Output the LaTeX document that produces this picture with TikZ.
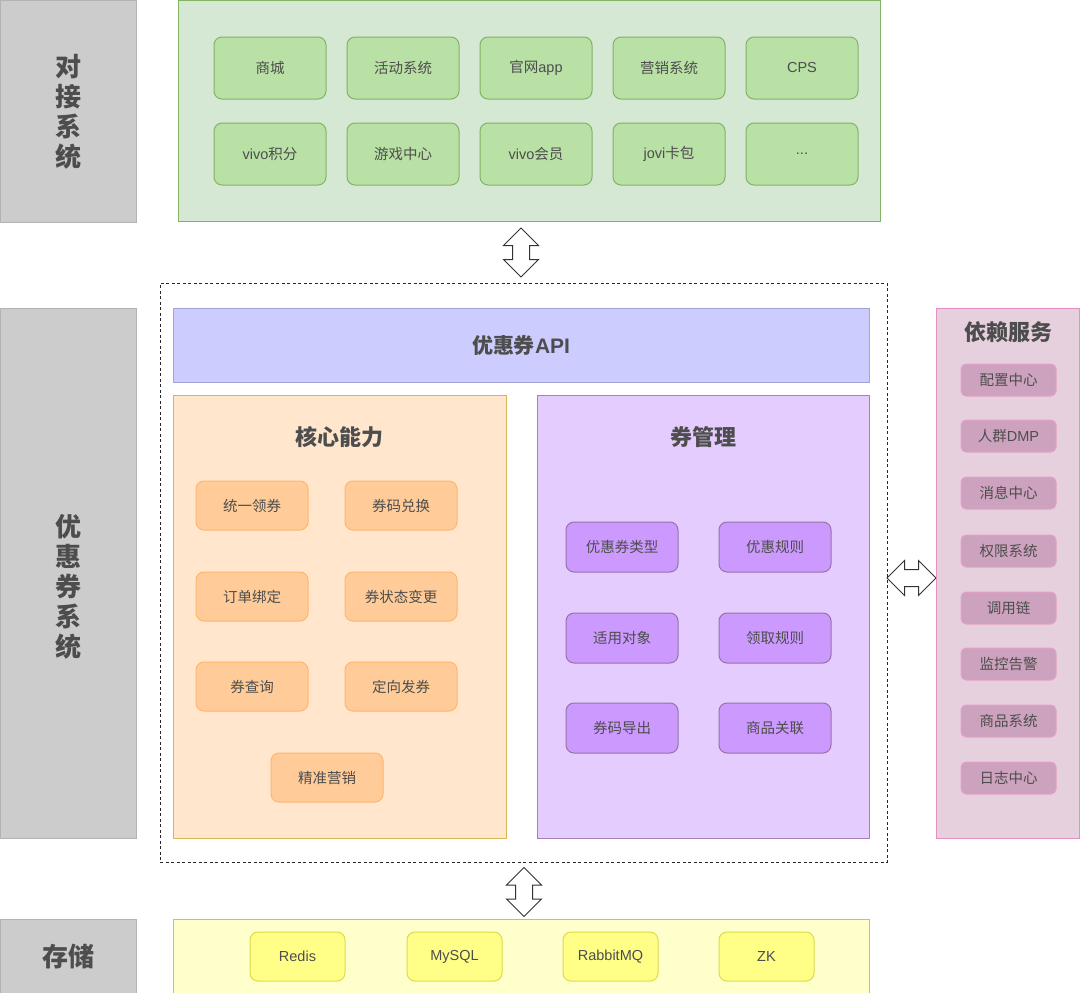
\documentclass[tikz,border=0pt]{standalone}
\usepackage{fontspec}
\setmainfont{Noto Sans CJK SC}
\newfontfamily\lat{Liberation Sans}
\usetikzlibrary{shapes.arrows}
\definecolor{txt}{HTML}{4D4D4D}
\definecolor{grayF}{HTML}{CCCCCC}\definecolor{grayD}{HTML}{B3B3B3}
\definecolor{grnF}{HTML}{D5E8D4}\definecolor{grnD}{HTML}{82B366}\definecolor{grnB}{HTML}{B9E0A5}
\definecolor{apiF}{HTML}{CCCCFF}\definecolor{apiD}{HTML}{A3A3D6}
\definecolor{orgF}{HTML}{FFE6CC}\definecolor{orgD}{HTML}{D6B656}\definecolor{orgB}{HTML}{FFCC99}\definecolor{orgBD}{HTML}{FFB570}
\definecolor{purF}{HTML}{E5CCFF}\definecolor{purD}{HTML}{A680B8}\definecolor{purB}{HTML}{CC99FF}\definecolor{purBD}{HTML}{9673A6}
\definecolor{pnkF}{HTML}{E6D0DE}\definecolor{pnkD}{HTML}{E68FC4}\definecolor{pnkB}{HTML}{CDA2BE}\definecolor{pnkBD}{HTML}{E6A0C8}
\definecolor{yelF}{HTML}{FFFFCC}\definecolor{yelD}{HTML}{C8C846}\definecolor{yelB}{HTML}{FFFF88}\definecolor{yelBD}{HTML}{DCDC4A}
\begin{document}
\begin{tikzpicture}[x=1pt,y=-1pt,
  every node/.style={inner sep=0pt, outer sep=0pt, text=txt},
  panel/.style={draw, line width=1pt, rectangle},
  lbl/.style={panel, fill=grayF, draw=grayD},
  lbltxt/.style={font=\fontsize{26}{30}\selectfont\bfseries, align=center},
  ttl/.style={font=\fontsize{22}{26}\selectfont\bfseries},
  sbox/.style={draw, line width=1pt, rounded corners=8pt, font=\fontsize{14.5}{16}\selectfont},
  gbox/.style={sbox, fill=grnB, draw=grnD, minimum width=112pt, minimum height=62pt},
  obox/.style={sbox, fill=orgB, draw=orgBD, minimum width=112pt, minimum height=49pt},
  pbox/.style={sbox, fill=purB, draw=purBD, minimum width=112pt, minimum height=50pt},
  kbox/.style={sbox, rounded corners=5pt, fill=pnkB, draw=pnkBD, minimum width=95pt, minimum height=32pt},
  ybox/.style={sbox, fill=yelB, draw=yelBD, minimum width=95pt, minimum height=49pt},
  darr/.style={double arrow, draw=black!80, fill=white, line width=1pt, inner xsep=0pt, inner ysep=8pt, double arrow head extend=9pt, minimum height=49pt}
]
\useasboundingbox (0,0) rectangle (1080,993);

% left labels
\node[lbl, minimum width=136pt, minimum height=222pt] (L1) at (68,111) {};
\node[lbltxt] (L1t) at (68,112) {\fontsize{26}{29.5}\selectfont 对\\接\\系\\统};
\node[lbl, minimum width=136pt, minimum height=530pt] (L2) at (68,573) {};
\node[lbltxt] (L2t) at (68,587) {优\\惠\\券\\系\\统};
\node[lbl, minimum width=136pt, minimum height=78pt] (L3) at (68,958) {};
\node[lbltxt] (L3t) at (68,957) {存储};

% top green panel
\node[panel, fill=grnF, draw=grnD, minimum width=702pt, minimum height=221pt] (G) at (529,111) {};
\node[gbox] (g1) at (270,68) {商城};
\node[gbox] (g2) at (403,68) {活动系统};
\node[gbox] (g3) at (536,68) {官网{\lat app}};
\node[gbox] (g4) at (669,68) {营销系统};
\node[gbox] (g5) at (802,68) {\lat CPS};
\node[gbox] (g6) at (270,154) {{\lat vivo}积分};
\node[gbox] (g7) at (403,154) {游戏中心};
\node[gbox] (g8) at (536,154) {{\lat vivo}会员};
\node[gbox] (g9) at (669,154) {{\lat jovi}卡包};
\node[gbox] (g10) at (802,154) {\lat ...};

% dashed container
\node[draw=black!85, line width=1pt, dash pattern=on 3pt off 2.5pt, minimum width=727pt, minimum height=579pt] (D) at (523.5,572.5) {};

% arrows
\node[darr, rotate=90] (a1) at (521,252.5) {};
\node[darr, rotate=90] (a2) at (524,892) {};
\node[darr] (a3) at (911.5,578) {};

% API
\node[panel, fill=apiF, draw=apiD, minimum width=696pt, minimum height=74pt, font=\fontsize{21}{24}\selectfont\bfseries] (API) at (521,345) {优惠券{\lat API}};

% core
\node[panel, fill=orgF, draw=orgD, minimum width=333pt, minimum height=443pt] (C) at (339.5,616.5) {};
\node[ttl] (Ct) at (339,437) {核心能力};
\node[obox] (o1) at (252,505.5) {统一领券};
\node[obox] (o2) at (401,505.5) {券码兑换};
\node[obox] (o3) at (252,596.5) {订单绑定};
\node[obox] (o4) at (401,596.5) {券状态变更};
\node[obox] (o5) at (252,686.5) {券查询};
\node[obox] (o6) at (401,686.5) {定向发券};
\node[obox] (o7) at (327,777.5) {精准营销};

% coupon management
\node[panel, fill=purF, draw=purD, minimum width=332pt, minimum height=443pt] (M) at (703,616.5) {};
\node[ttl] (Mt) at (703,437) {券管理};
\node[pbox] (p1) at (622,547) {优惠券类型};
\node[pbox] (p2) at (775,547) {优惠规则};
\node[pbox] (p3) at (622,638) {适用对象};
\node[pbox] (p4) at (775,638) {领取规则};
\node[pbox] (p5) at (622,728) {券码导出};
\node[pbox] (p6) at (775,728) {商品关联};

% dependencies
\node[panel, fill=pnkF, draw=pnkD, minimum width=143pt, minimum height=530pt] (R) at (1008,573) {};
\node[ttl] (Rt) at (1008,332) {依赖服务};
\node[kbox] (k1) at (1008.5,380) {配置中心};
\node[kbox] (k2) at (1008.5,436) {人群{\lat DMP}};
\node[kbox] (k3) at (1008.5,493) {消息中心};
\node[kbox] (k4) at (1008.5,551) {权限系统};
\node[kbox] (k5) at (1008.5,608) {调用链};
\node[kbox] (k6) at (1008.5,664) {监控告警};
\node[kbox] (k7) at (1008.5,721) {商品系统};
\node[kbox] (k8) at (1008.5,778) {日志中心};

% storage
\node[panel, fill=yelF, draw=yelD, minimum width=696pt, minimum height=80pt] (Y) at (521,959) {};
\node[ybox] (y1) at (297.5,956.5) {\lat Redis};
\node[ybox] (y2) at (454.5,956.5) {\lat MySQL};
\node[ybox] (y3) at (610.5,956.5) {\lat RabbitMQ};
\node[ybox] (y4) at (766.5,956.5) {\lat ZK};
\end{tikzpicture}
\end{document}
